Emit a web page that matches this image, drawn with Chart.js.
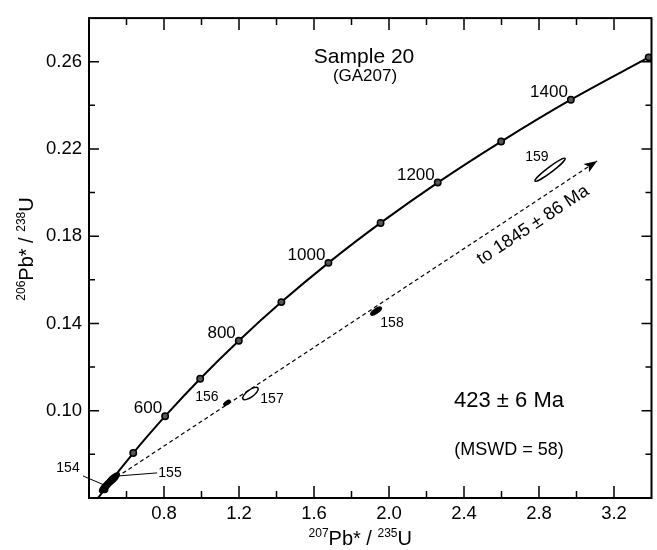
<!DOCTYPE html>
<html lang="en">
<head>
<meta charset="UTF-8">
<title>Concordia - Sample 20</title>
<script src="https://cdn.jsdelivr.net/npm/chart.js@4.4.2/dist/chart.umd.min.js"></script>
<style>
    body { margin: 0; background: #fff; }
    #wrap { width: 657px; height: 550px; }
</style>
</head>
<body>
<div id="wrap"><canvas id="concordia" width="657" height="550"></canvas></div>
<script>
    // concordia curve, marked every 100 Ma
    const ages = [300, 400, 500, 600, 700, 800, 900, 1000, 1100, 1200, 1300, 1400, 1500];
    const conX = [0.344, 0.483, 0.636, 0.806, 0.993, 1.199, 1.426, 1.677, 1.955, 2.260, 2.598, 2.970, 3.385];
    const conY = [0.0476, 0.0640, 0.0806, 0.0975, 0.1147, 0.1321, 0.1498, 0.1678, 0.1861, 0.2046, 0.2234, 0.2426, 0.2620];
    const labelledAges = [600, 800, 1000, 1200, 1400];

    // discordia, from the lower intercept towards the upper one
    const discX = [0.517, 3.11];
    const discY = [0.0678, 0.2145];

    // error ellipses per grain: centre, half of the long axis (in ratio units), minor/major
    const ellId = ['154', '155', '156', '157', '158', '159'];
    const ellX = [0.491, 0.525, 1.136, 1.261, 1.931, 2.859];
    const ellY = [0.0656, 0.0685, 0.1036, 0.1079, 0.1457, 0.2105];
    const ellHalfX = [0.032, 0.035, 0.016, 0.040, 0.027, 0.080];
    const ellHalfY = [0.0029, 0.0029, 0.0009, 0.0025, 0.0016, 0.0052];
    const ellRatio = [0.35, 0.35, 0.45, 0.38, 0.35, 0.14];

    // grain number labels
    const grainLabX = [0.288, 0.832, 1.029, 1.376, 2.016, 2.789];
    const grainLabY = [0.0737, 0.0715, 0.1063, 0.1054, 0.1403, 0.2164];
    // leader lines for 154 and 155
    const leaders = [
        [[0.368, 0.0701], [0.480, 0.0660]],
        [[0.555, 0.0701], [0.763, 0.0715]]
    ];

    const xMajor = [0.8, 1.2, 1.6, 2.0, 2.4, 2.8, 3.2];
    const xMinor = [0.6, 1.0, 1.4, 1.8, 2.2, 2.6, 3.0];
    const yMajor = [0.10, 0.14, 0.18, 0.22, 0.26];
    const yMinor = [0.08, 0.12, 0.16, 0.20, 0.24];

    const FONT = '"Liberation Sans", Arial, Helvetica, sans-serif';
    const solid = ['154', '155', '156', '158'];

    function supText(ctx, parts, cx, base) {
        const big = 'normal 20px ' + FONT, small = 'normal 12px ' + FONT;
        let total = 0;
        parts.forEach(p => { ctx.font = p.sup ? small : big; total += ctx.measureText(p.t).width; });
        let xx = cx - total / 2;
        ctx.textAlign = 'left';
        ctx.textBaseline = 'alphabetic';
        parts.forEach(p => {
            ctx.font = p.sup ? small : big;
            ctx.fillText(p.t, xx, p.sup ? base - 8 : base);
            xx += ctx.measureText(p.t).width;
        });
    }

    const overlay = {
        id: 'overlay',
        afterDatasetsDraw(chart) {
            const ctx = chart.ctx, a = chart.chartArea;
            const xs = chart.scales.x, ys = chart.scales.y;
            const px = v => xs.getPixelForValue(v), py = v => ys.getPixelForValue(v);
            ctx.save();
            ctx.fillStyle = '#000';
            ctx.strokeStyle = '#000';

            // frame
            ctx.lineWidth = 2;
            ctx.strokeRect(a.left, a.top, a.right - a.left, a.bottom - a.top);

            // ticks pointing inwards on all sides
            ctx.lineWidth = 1.5;
            ctx.beginPath();
            const xt = (list, len) => list.forEach(v => {
                const p = px(v);
                ctx.moveTo(p, a.bottom); ctx.lineTo(p, a.bottom - len);
                ctx.moveTo(p, a.top); ctx.lineTo(p, a.top + len);
            });
            const yt = (list, len) => list.forEach(v => {
                const p = py(v);
                ctx.moveTo(a.left, p); ctx.lineTo(a.left + len, p);
                ctx.moveTo(a.right, p); ctx.lineTo(a.right - len, p);
            });
            xt(xMajor, 12); xt(xMinor, 7);
            yt(yMajor, 10); yt(yMinor, 6);
            ctx.stroke();

            // arrow head at the end of the discordia
            const x0 = px(discX[0]), y0 = py(discY[0]);
            const x1 = px(discX[1]), y1 = py(discY[1]);
            const ang = Math.atan2(y1 - y0, x1 - x0);
            ctx.save();
            ctx.translate(x1, y1);
            ctx.rotate(ang);
            ctx.beginPath();
            ctx.moveTo(0, 0);
            ctx.lineTo(-13, -5);
            ctx.lineTo(-10, 0);
            ctx.lineTo(-13, 5);
            ctx.closePath();
            ctx.fill();
            ctx.restore();

            // error ellipses
            ctx.lineWidth = 1.5;
            ellId.forEach((id, i) => {
                const cx = px(ellX[i]), cy = py(ellY[i]);
                const ex = px(ellX[i] + ellHalfX[i]) - cx, ey = py(ellY[i] + ellHalfY[i]) - cy;
                const r = Math.hypot(ex, ey);
                ctx.beginPath();
                ctx.ellipse(cx, cy, r, r * ellRatio[i], Math.atan2(ey, ex), 0, Math.PI * 2);
                if (solid.includes(id)) ctx.fill();
                ctx.stroke();
            });

            // leaders
            ctx.lineWidth = 1;
            leaders.forEach(l => {
                ctx.beginPath();
                ctx.moveTo(px(l[0][0]), py(l[0][1]));
                ctx.lineTo(px(l[1][0]), py(l[1][1]));
                ctx.stroke();
            });

            // grain numbers
            ctx.font = '14px ' + FONT;
            ctx.textAlign = 'center';
            ctx.textBaseline = 'middle';
            ellId.forEach((id, i) => ctx.fillText(id, px(grainLabX[i]), py(grainLabY[i])));

            // age labels next to concordia marks
            ctx.font = '17px ' + FONT;
            ctx.textAlign = 'right';
            ctx.textBaseline = 'alphabetic';
            labelledAges.forEach(age => {
                const k = ages.indexOf(age);
                ctx.fillText(String(age), px(conX[k]) - 3, py(conY[k]) - 3);
            });

            // notes
            ctx.textAlign = 'center';
            ctx.textBaseline = 'middle';
            ctx.font = '21px ' + FONT;
            ctx.fillText('Sample 20', px(1.867), py(0.2621));
            ctx.font = '17px ' + FONT;
            ctx.fillText('(GA207)', px(1.872), py(0.2531));
            ctx.font = '22px ' + FONT;
            ctx.fillText('423 ± 6 Ma', px(2.64), py(0.1045));
            ctx.font = '18px ' + FONT;
            ctx.fillText('(MSWD = 58)', px(2.64), py(0.0819));
            ctx.save();
            ctx.translate(px(2.768), py(0.1851));
            ctx.rotate(ang);
            ctx.fillText('to 1845 ± 86 Ma', 0, 0);
            ctx.restore();

            // axis titles
            supText(ctx, [{t: '207', sup: true}, {t: 'Pb* / '}, {t: '235', sup: true}, {t: 'U'}],
                (a.left + a.right) / 2 - 10, 545);
            ctx.save();
            ctx.translate(33, 249);
            ctx.rotate(-Math.PI / 2);
            supText(ctx, [{t: '206', sup: true}, {t: 'Pb* / '}, {t: '238', sup: true}, {t: 'U'}], 0, 0);
            ctx.restore();

            ctx.restore();
        }
    };

    const tickFont = { family: FONT, size: 18.5 };

    new Chart(document.getElementById('concordia'), {
        type: 'scatter',
        data: {
            datasets: [{
                label: 'Concordia',
                data: conX.map((v, i) => ({ x: v, y: conY[i] })),
                showLine: true,
                cubicInterpolationMode: 'monotone',
                borderColor: '#000',
                borderWidth: 2,
                pointRadius: 3.2,
                pointBackgroundColor: '#555',
                pointBorderColor: '#000',
                pointBorderWidth: 1.5
            }, {
                label: 'Discordia',
                data: discX.map((v, i) => ({ x: v, y: discY[i] })),
                showLine: true,
                borderColor: '#000',
                borderWidth: 1.2,
                borderDash: [4, 3],
                pointRadius: 0
            }]
        },
        options: {
            responsive: false,
            animation: false,
            events: [],
            layout: { padding: { top: 13, right: 5, left: 0, bottom: 0 } },
            plugins: { legend: { display: false }, tooltip: { enabled: false } },
            scales: {
                x: {
                    type: 'linear',
                    min: 0.4,
                    max: 3.4,
                    grid: { display: false, drawTicks: false },
                    border: { display: false },
                    afterBuildTicks: s => { s.ticks = xMajor.map(v => ({ value: v })); },
                    afterFit: s => { s.height = 52; },
                    ticks: {
                        autoSkip: false,
                        maxRotation: 0,
                        padding: 5,
                        color: '#000',
                        font: tickFont,
                        callback: v => v.toFixed(1)
                    }
                },
                y: {
                    type: 'linear',
                    min: 0.06,
                    max: 0.28,
                    grid: { display: false, drawTicks: false },
                    border: { display: false },
                    afterBuildTicks: s => { s.ticks = yMajor.map(v => ({ value: v })); },
                    afterFit: s => { s.width = 89; },
                    ticks: {
                        autoSkip: false,
                        padding: 7,
                        color: '#000',
                        font: tickFont,
                        callback: v => v.toFixed(2)
                    }
                }
            }
        },
        plugins: [overlay]
    });
</script>
</body>
</html>
